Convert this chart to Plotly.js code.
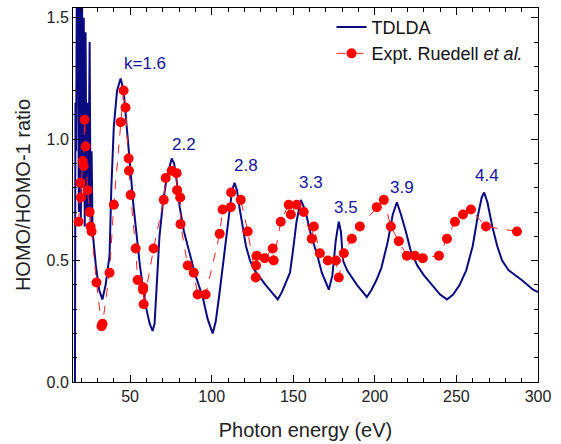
<!DOCTYPE html>
<html>
<head>
<meta charset="utf-8">
<script src="https://cdn.plot.ly/plotly-3.0.1.min.js"></script>
<style>
html,body{margin:0;padding:0;background:#fff;}
#chart{width:561px;height:444px;}
</style>
</head>
<body>
<div id="chart"></div>
<script>
// TDLDA theory curve (photon energy in eV, ratio)
const tdldaE = [16.2,16.5,16.9,17.4,18.0,18.6,19.2,19.8,20.5,21.0,21.6,22.2,22.7,23.3,23.8,24.4,25.2,25.8,26.4,27.0,
  29.0,31.0,33.0,35.0,37.4,38.5,40.0,42.0,44.2,46.0,48.0,50.0,52.0,54.0,56.0,58.0,60.0,62.0,63.8,65.0,66.5,68.0,70.0,72.4,75.5,
  77.0,78.5,80.4,83.0,86.5,90.0,94.5,97.5,100.6,102.5,104.5,106.7,109.0,111.0,112.5,114.0,115.5,117.0,119.0,121.0,123.5,126.3,133.0,140.5,
  143.0,146.0,148.0,150.0,152.0,154.6,156.5,158.3,161.0,164.4,167.5,171.8,174.0,176.0,177.9,179.2,180.5,183.0,189.0,195.1,
  198.0,201.0,204.0,208.0,211.0,213.5,216.0,219.0,222.0,226.0,230.0,235.0,240.0,244.2,248.0,252.0,256.0,260.0,263.0,265.5,267.0,
  269.0,272.0,275.0,278.0,282.0,290.0,297.0,300.0];
const tdldaR = [0.00,1.15,0.95,1.70,1.70,0.70,1.60,0.66,1.70,0.80,1.50,0.64,1.44,0.70,1.15,0.68,1.40,0.62,0.95,0.62,
  0.48,0.38,0.34,0.40,0.52,0.80,1.05,1.20,1.25,1.20,1.06,0.89,0.73,0.60,0.48,0.38,0.30,0.24,0.21,0.24,0.40,0.60,0.73,0.84,0.92,
  0.90,0.83,0.72,0.62,0.53,0.44,0.35,0.26,0.20,0.25,0.35,0.47,0.62,0.72,0.79,0.82,0.79,0.72,0.63,0.56,0.50,0.46,0.40,0.34,
  0.37,0.42,0.45,0.55,0.66,0.75,0.72,0.68,0.60,0.53,0.45,0.38,0.44,0.58,0.66,0.62,0.50,0.46,0.40,0.35,
  0.38,0.42,0.47,0.58,0.69,0.74,0.69,0.62,0.54,0.48,0.44,0.40,0.36,0.34,0.36,0.40,0.46,0.56,0.68,0.76,0.78,
  0.74,0.64,0.56,0.50,0.46,0.42,0.38,0.37];

// Experimental data (Ruedell et al.)
const exptE = [18.4,19.6,19.8,20.9,21.5,22.1,22.7,23.9,25.2,25.8,26.4,29.4,32.5,33.1,37.4,40.0,44.2,46.0,47.2,49.1,49.3,50.3,
  53.4,54.6,57.9,58.0,58.3,64.4,70.6,71.8,75.5,78.5,78.8,80.7,80.9,85.3,89.0,91.4,96.3,104.9,106.7,111.7,111.9,117.8,122.1,
  127.0,127.2,127.6,132.5,137.4,138.0,142.3,147.2,148.5,152.1,156.4,161.3,162.6,166.3,171.2,176.1,177.9,181.0,185.9,190.8,
  201.2,205.5,209.8,214.7,219.6,224.5,229.4,239.3,244.2,249.1,254.0,258.9,268.1,287.1];
const exptR = [0.66,0.82,0.76,0.91,0.89,1.08,0.97,0.79,0.70,0.64,0.62,0.41,0.23,0.24,0.45,0.73,1.07,1.20,1.13,0.92,0.87,0.77,
  0.55,0.42,0.38,0.39,0.32,0.55,0.75,0.84,0.87,0.86,0.79,0.76,0.65,0.48,0.45,0.36,0.36,0.61,0.71,0.72,0.78,0.75,0.62,
  0.43,0.48,0.52,0.51,0.55,0.50,0.66,0.73,0.69,0.73,0.70,0.59,0.64,0.53,0.50,0.50,0.43,0.53,0.59,0.64,
  0.72,0.75,0.64,0.58,0.52,0.52,0.51,0.52,0.59,0.66,0.69,0.71,0.64,0.62];

// Peak labels
const peakLabels = ["k=1.6","2.2","2.8","3.3","3.5","3.9","4.4"];
const peakE = [58.9,82.8,120.8,160.7,182.2,216.6,268.7];
const peakR = [1.31,0.98,0.89,0.82,0.72,0.80,0.85];

const xTicks = [50,100,150,200,250,300];
const yTicks = [0.0,0.5,1.0,1.5];

const navy = '#0a0a80';
const font = 'Liberation Sans, Arial, sans-serif';

const traces = [
  {x: tdldaE, y: tdldaR, type: 'scatter', mode: 'lines', name: 'TDLDA',
   line: {color: navy, width: 2}},
  {x: exptE, y: exptR, type: 'scatter', mode: 'lines+markers', name: 'Expt. Ruedell <i>et al.</i>',
   line: {color: '#ff2020', width: 1, dash: 'dash'},
   marker: {color: '#ff0000', size: 10}}
];

const annotations = peakLabels.map((t, i) => ({
  x: peakE[i], y: peakR[i], text: t, showarrow: false,
  font: {family: font, size: 17, color: '#14149a'}
}));

const axisCommon = {
  showline: true, linecolor: '#000', linewidth: 1, mirror: 'allticks',
  ticks: 'inside', ticklen: 7, tickwidth: 1, tickcolor: '#000',
  showgrid: false, zeroline: false,
  tickfont: {family: font, size: 16, color: '#222'}
};

const layout = {
  width: 561, height: 444,
  margin: {l: 73, r: 23, t: 8, b: 62},
  paper_bgcolor: '#fff', plot_bgcolor: '#fff',
  showlegend: true,
  legend: {x: 0.556, xanchor: 'left', y: 0.998, yanchor: 'top',
           bgcolor: 'rgba(0,0,0,0)', font: {family: font, size: 18, color: '#111'},
           tracegroupgap: 0},
  xaxis: Object.assign({}, axisCommon, {
    range: [15, 300], tickvals: xTicks,
    minor: {dtick: 10, tick0: 0, ticklen: 4, ticks: 'inside', tickcolor: '#000'},
    title: {text: 'Photon energy (eV)', font: {family: font, size: 20, color: '#222'}, standoff: 18}
  }),
  yaxis: Object.assign({}, axisCommon, {
    range: [0, 1.54], tickvals: yTicks, tickformat: '.1f',
    minor: {dtick: 0.1, tick0: 0, ticklen: 4, ticks: 'inside', tickcolor: '#000'},
    title: {text: 'HOMO/HOMO-1 ratio', font: {family: font, size: 20, color: '#222'}, standoff: 10}
  }),
  annotations: annotations
};

Plotly.newPlot('chart', traces, layout, {displayModeBar: false, staticPlot: true});
</script>
</body>
</html>
